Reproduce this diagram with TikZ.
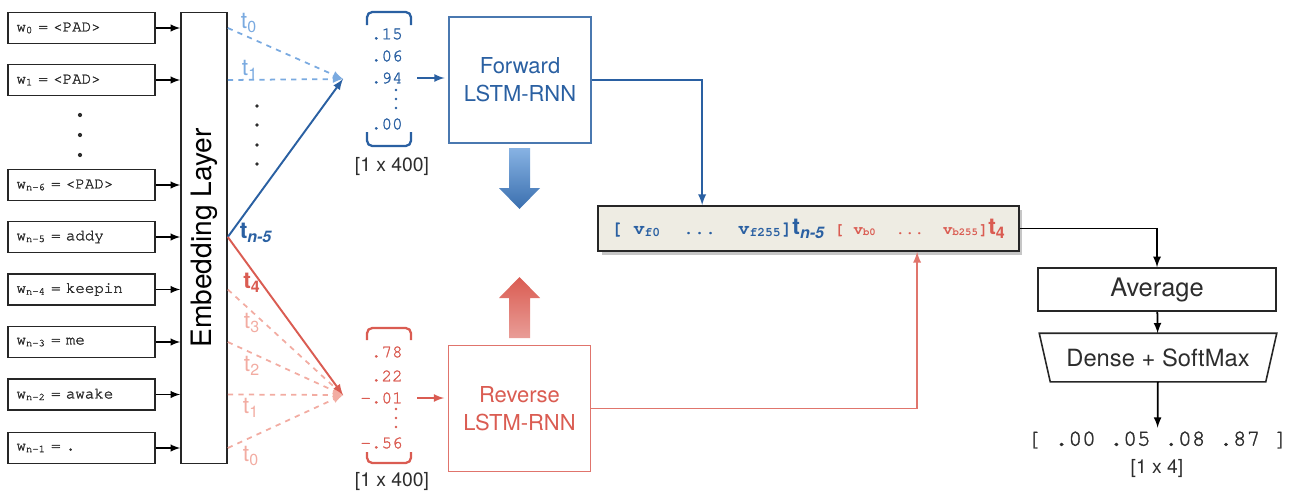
\documentclass[tikz,border=0pt]{standalone}
\usepackage{fontspec}
\setmainfont{TeX Gyre Heros}
\setmonofont{TeX Gyre Cursor}
\newfontfamily\medmono{TeX Gyre Cursor}[FakeBold=1.6]
\usepackage{tikz}
\usetikzlibrary{shadows}

\definecolor{fwdBlue}{RGB}{42,96,162}
\definecolor{lightBlue}{RGB}{122,170,224}
\definecolor{revRed}{RGB}{218,92,82}
\definecolor{lightRed}{RGB}{242,172,162}
\definecolor{boxFill}{RGB}{238,236,227}
\definecolor{textGray}{RGB}{45,45,45}

\begin{document}
\begin{tikzpicture}[x=0.02cm, y=-0.02cm, >=latex]
\useasboundingbox (0,0) rectangle (1300,490);
\tikzstyle{wordNode} =
[
	shape			= rectangle,		% shape
	draw			= black!85,			% colour of the border
	line width		= 0.9pt,			% thickness of the border
	minimum width	= 2.94cm,			% | minimum size
	minimum height	= 0.62cm,			% |
	text width		= 2.6cm,			% text is left aligned
	inner xsep		= 0.17cm,			% distance btw text and left border
	align			= left,
	text			= textGray,
	font			= \medmono\fontsize{9}{11}\selectfont
]
\tikzstyle{lstmNode} =
[
	shape			= rectangle,
	line width		= 1pt,
	minimum width	= 2.84cm,
	minimum height	= 2.52cm,
	align			= center,
	font			= \fontsize{12.5}{16}\selectfont
]
\tikzstyle{outNode} =
[
	shape			= rectangle,
	draw			= black!85,
	line width		= 0.9pt,
	minimum width	= 4.76cm,
	minimum height	= 0.86cm,
	text			= textGray,
	font			= \fontsize{14.5}{17}\selectfont
]
\tikzstyle{vecNum} = [anchor = east, inner sep = 0pt, font = \medmono\fontsize{10}{12}\selectfont]
\tikzstyle{tLabel} = [inner sep = 0pt, font = \fontsize{13}{15}\selectfont]
\tikzstyle{dimLabel} = [inner sep = 0pt, text = textGray, font = \fontsize{11}{13}\selectfont]
% words
\node (w0) [wordNode] at (81.5,28) {w\textsubscript{0} = <PAD>};
\node (w1) [wordNode] at (81.5,80) {w\textsubscript{1} = <PAD>};
\node (wn6) [wordNode] at (81.5,185) {w\textsubscript{n-6} = <PAD>};
\node (wn5) [wordNode] at (81.5,237) {w\textsubscript{n-5} = addy};
\node (wn4) [wordNode] at (81.5,289.5) {w\textsubscript{n-4} = keepin};
\node (wn3) [wordNode] at (81.5,342) {w\textsubscript{n-3} = me};
\node (wn2) [wordNode] at (81.5,394.5) {w\textsubscript{n-2} = awake};
\node (wn1) [wordNode] at (81.5,448) {w\textsubscript{n-1} = .};
\foreach \y in {115,135,155}
	\fill [textGray] (80,\y) circle (1.2pt);
% embedding
\node (emb) [draw = black!85, line width = 0.9pt, minimum width = 0.92cm, minimum height = 9.02cm, inner sep = 0pt, font = \fontsize{16}{19}\selectfont] at (204,238) {\rotatebox{90}{Embedding Layer}};
\foreach \w in {w0,w1,wn6,wn5,wn4,wn3,wn2,wn1}
	\draw [->, line width = 0.9pt] (\w.east) -- (emb.west |- \w.east);
% time steps
\coordinate (bmeet) at (343,79);
\coordinate (rmeet) at (343,395);
\draw [->, dashed, lightBlue, line width = 1pt] (emb.east |- w0) -- (bmeet);
\draw [->, dashed, lightBlue, line width = 1pt] (emb.east |- w1) -- (bmeet);
\draw [->, fwdBlue, line width = 1.1pt] (emb.east |- wn5) -- (bmeet);
\foreach \w in {wn4,wn3,wn2,wn1}
	\draw [->, dashed, lightRed, line width = 1pt] (emb.east |- \w) -- (rmeet);
\draw [->, revRed, line width = 1.1pt] (emb.east |- wn5) -- (rmeet);
\node (tb0) [tLabel, lightBlue] at (249,23) {t\textsubscript{0}};
\node (tb1) [tLabel, lightBlue] at (250,70) {t\textsubscript{1}};
\node (tbn) [tLabel, fwdBlue] at (256,233) {\bfseries t\textsubscript{\itshape n-5}};
\node (tr4) [tLabel, revRed] at (252,283) {\bfseries t\textsubscript{4}};
\node (tr3) [tLabel, lightRed] at (252,323) {t\textsubscript{3}};
\node (tr2) [tLabel, lightRed] at (252,366) {t\textsubscript{2}};
\node (tr1) [tLabel, lightRed] at (251,408) {t\textsubscript{1}};
\node (tr0) [tLabel, lightRed] at (251,456) {t\textsubscript{0}};
\foreach \y in {106,125,145,164}
	\fill [textGray] (257,\y) circle (1.1pt);
% forward vector
\node (fv1) [vecNum, fwdBlue] at (403,34) {.15};
\node (fv2) [vecNum, fwdBlue] at (403,56) {.06};
\node (fv3) [vecNum, fwdBlue] at (403,78) {.94};
\node (fv4) [vecNum, fwdBlue] at (403,124) {.00};
\foreach \y in {90,99,108}
	\fill [fwdBlue] (396,\y) circle (0.8pt);
\draw [fwdBlue, line width = 1.3pt, rounded corners = 3pt] (367,25) -- (367,12) -- (411,12) -- (411,25);
\draw [fwdBlue, line width = 1.3pt, rounded corners = 3pt] (367,132) -- (367,146) -- (411,146) -- (411,132);
\node (fdim) [dimLabel] at (392,167) {[1 x 400]};
% reverse vector
\node (rv1) [vecNum, revRed] at (403,352) {.78};
\node (rv2) [vecNum, revRed] at (403,376) {.22};
\node (rv3) [vecNum, revRed] at (403,398) {-.01};
\node (rv4) [vecNum, revRed] at (403,443) {-.56};
\foreach \y in {409,418,427}
	\fill [revRed] (396,\y) circle (0.8pt);
\draw [revRed, line width = 1.3pt, rounded corners = 3pt] (367,340) -- (367,328) -- (411,328) -- (411,340);
\draw [revRed, line width = 1.3pt, rounded corners = 3pt] (367,452) -- (367,463) -- (411,463) -- (411,452);
\node (rdim) [dimLabel] at (392,481) {[1 x 400]};
% lstm
\node (fwd) [lstmNode, draw = fwdBlue!85, text = fwdBlue] at (520,80) {Forward\\LSTM-RNN};
\node (rev) [lstmNode, draw = revRed!85, text = revRed] at (519.5,408.5) {Reverse\\LSTM-RNN};
\draw [->, fwdBlue, line width = 1pt, shorten <= 8pt, shorten >= 2pt] (fv3.east) -- (fwd.west |- fv3.east);
\draw [->, revRed, line width = 1pt, shorten <= 8pt, shorten >= 2pt] (rv3.east) -- (rev.west |- rv3.east);
\shade [top color = lightBlue!90, bottom color = fwdBlue!80!lightBlue] (509,148) -- (530,148) -- (530,188) -- (540,188) -- (519.5,209) -- (499,188) -- (509,188) -- cycle;
\shade [top color = revRed, bottom color = revRed!60] (519.5,277) -- (540,298) -- (530,298) -- (530,338) -- (509,338) -- (509,298) -- (499,298) -- cycle;
% concatenation
\node (concat) [draw = black!85, line width = 1pt, fill = boxFill, minimum width = 8.42cm, minimum height = 0.9cm, drop shadow = {shadow xshift = 2pt, shadow yshift = -2pt, opacity = 0.45}] at (808.5,228.5) {{\color{fwdBlue}\ttfamily\bfseries\fontsize{10.5}{13}\selectfont [\ v\textsubscript{f0}\ \ ...\ \ v\textsubscript{f255}]{\rmfamily\fontsize{13}{15}\selectfont t\textsubscript{\itshape n-5}}}\ \ {\color{revRed}\ttfamily\bfseries\fontsize{9}{11}\selectfont [\ v\textsubscript{b0}\ \ ...\ \ v\textsubscript{b255}]{\rmfamily\fontsize{13}{15}\selectfont t\textsubscript{4}}}};
\draw [->, fwdBlue, line width = 1.1pt] (fwd.east) -| ([xshift = 2.1cm]concat.north west);
\draw [->, revRed!85, line width = 1.1pt] (rev.east) -| ([xshift = 6.4cm]concat.south west);
% output
\node (avg) [outNode] at (1157,289.5) {Average};
\node (dense) [outNode, draw = none, minimum width = 4.72cm, minimum height = 0.94cm, font = \fontsize{13.5}{16}\selectfont] at (1158,357.5) {Dense + SoftMax};
\draw [black!85, line width = 0.9pt] (dense.north west) -- (dense.north east) -- ([xshift = -0.22cm]dense.south east) -- ([xshift = 0.22cm]dense.south west) -- cycle;
\node (outv) [inner sep = 2pt, text = textGray, font = \medmono\fontsize{13}{15}\selectfont] at (1157.5,440) {[ .00 .05 .08 .87 ]};
\node (outdim) [dimLabel] at (1157,468) {[1 x 4]};
\draw [->, line width = 1.1pt] (concat.east) -| (avg.north);
\draw [->, line width = 1pt] (avg) -- (dense);
\draw [->, line width = 1pt] (dense) -- (outv);
\end{tikzpicture}
\end{document}
